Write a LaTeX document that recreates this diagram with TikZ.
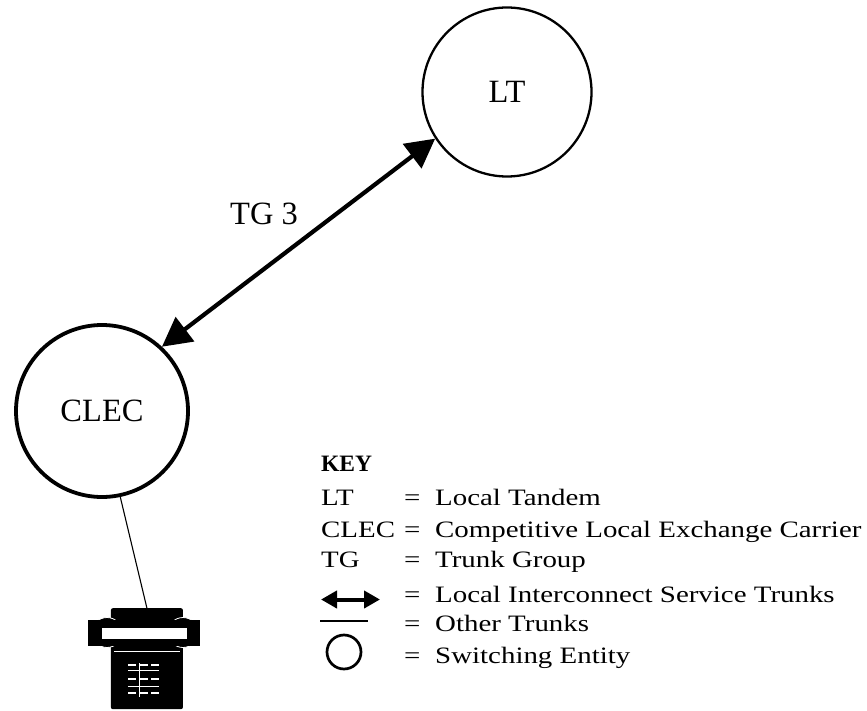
\documentclass[tikz,border=0pt]{standalone}
\usepackage{fontspec}
\setmainfont{Liberation Serif}
\newfontfamily\keyfont[FakeStretch=1.23]{Liberation Serif}
\usetikzlibrary{arrows.meta}
\begin{document}
\begin{tikzpicture}[x=1pt,y=-1pt,
  switch/.style={circle,draw,inner sep=0pt,font=\fontsize{32.5}{39}\selectfont},
  biglabel/.style={anchor=base,inner sep=0pt,font=\fontsize{32.5}{39}\selectfont},
  keytext/.style={anchor=base west,inner sep=0pt,font=\keyfont\fontsize{23.5}{28}\selectfont},
  keyhead/.style={anchor=base west,inner sep=0pt,font=\bfseries\fontsize{23.5}{28}\selectfont},
  bigarrow/.style={line width=4.2pt,{Triangle[length=29pt,width=30pt]}-{Triangle[length=29pt,width=30pt]}},
  smallarrow/.style={line width=4pt,{Triangle[length=16pt,width=17pt]}-{Triangle[length=16pt,width=17pt]}},
  thinline/.style={line width=1.1pt},
  keypad/.style={white,line width=1.5pt},
]
\useasboundingbox (0,0) rectangle (867,711);
% switching entities
\node[switch,minimum size=169pt,line width=2.3pt] (lt) at (507,92) {LT};
\node[switch,minimum size=172pt,line width=3.8pt] (clec) at (102,411) {CLEC};
\draw[bigarrow] (clec.47) -- (lt.213);
\node[biglabel] (tg3) at (264,225) {TG 3};
% telephone
\node[fill=black,draw=none,minimum width=72pt,minimum height=101pt,inner sep=0pt,anchor=north west,rounded corners=2pt] (phone) at (110.7,608) {};
\draw[white,line width=0.8pt] (114,651) -- (180,651);
\filldraw[fill=black,draw=white,line width=0.8pt] (107,632.5) circle[radius=15pt];
\filldraw[fill=black,draw=white,line width=0.8pt] (183,632.5) circle[radius=15pt];
\fill[black] (88,620) rectangle (200,646);
\fill[white] (102,628) rectangle (187,639);
\foreach \yy in {665,679,693} {
  \draw[keypad] (128,\yy) -- (136,\yy);
  \draw[keypad] (140,\yy) -- (148,\yy);
  \draw[keypad] (151,\yy) -- (159,\yy);
}
\foreach \yy in {670,686} {
  \draw[white,line width=0.8pt] (128,\yy) -- (159,\yy);
}
\draw[white,line width=1pt] (139,663) -- (139,697);
\draw[thinline] (clec.-78) -- (phone.north);
% key
\node[keyhead] (key) at (321,471) {KEY};
\node[keytext] (k1) at (321,505) {LT};
\node[keytext] (e1) at (404,505) {=};
\node[keytext] (d1) at (435,505) {Local Tandem};
\node[keytext] (k2) at (321,537) {CLEC};
\node[keytext] (e2) at (404,537) {=};
\node[keytext] (d2) at (435,537) {Competitive Local Exchange Carrier};
\node[keytext] (k3) at (321,567.5) {TG};
\node[keytext] (e3) at (404,567.5) {=};
\node[keytext] (d3) at (435,567.5) {Trunk Group};
\coordinate (ia) at (321,599.5);
\coordinate (ib) at (380,599.5);
\draw[smallarrow] (ia) -- (ib);
\node[keytext] (e4) at (404,602.5) {=};
\node[keytext] (d4) at (435,602.5) {Local Interconnect Service Trunks};
\coordinate (la) at (320,621);
\coordinate (lb) at (368,621);
\draw[line width=1.3pt] (la) -- (lb);
\node[keytext] (e5) at (404,631.5) {=};
\node[keytext] (d5) at (435,631.5) {Other Trunks};
\node[circle,draw,line width=2.7pt,minimum size=34pt,inner sep=0pt] (ic) at (344,652) {};
\node[keytext] (e6) at (404,663.5) {=};
\node[keytext] (d6) at (435,663.5) {Switching Entity};
\end{tikzpicture}
\end{document}
